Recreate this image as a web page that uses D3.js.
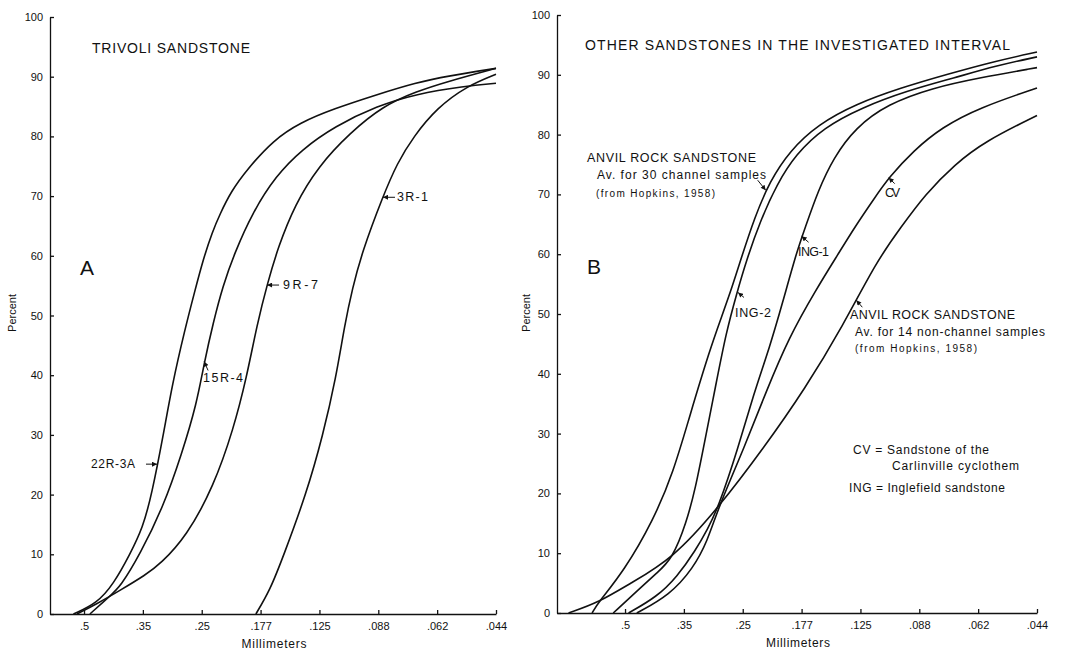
<!DOCTYPE html>
<html lang="en">

<head>
    <meta charset="UTF-8">
    <title>Cumulative grain size curves - sandstones</title>
    <script src="https://d3js.org/d3.v7.min.js"></script>
    <style>
        body {
            margin: 0;
            background: #fff;
        }

        svg text {
            font-family: "Liberation Sans", Arial, sans-serif;
            fill: #111;
        }

        .axis path,
        .axis line {
            stroke: #111;
            stroke-width: 1.3;
        }

        .axis text {
            font-size: 11px;
        }

        .curve {
            fill: none;
            stroke: #111;
            stroke-width: 1.6;
        }

        .arrow {
            stroke: #111;
            stroke-width: 1;
        }
    </style>
</head>

<body>
    <svg id="chart" width="1074" height="652"></svg>
    <script>
        // x axis: phi units (log2 of mm), labelled in millimeters
        let tickPhi = [1, 1.5, 2, 2.5, 3, 3.5, 4, 4.5]
        let tickMm = [".5", ".35", ".25", ".177", ".125", ".088", ".062", ".044"]
        let tickPct = [0, 10, 20, 30, 40, 50, 60, 70, 80, 90, 100]

        // panel A - Trivoli sandstone, [phi, cumulative percent]
        let s22R3A = [[0.91, 0], [1.11, 1.8], [1.25, 5.0], [1.39, 10.0], [1.50, 14.5], [1.575, 20.0], [1.674, 30.0],
        [1.75, 38.5], [1.855, 47.5], [1.94, 54.0], [2.014, 59.5], [2.09, 64.0], [2.155, 67.0], [2.25, 70.8],
        [2.382, 74.4], [2.61, 79.4], [2.835, 82.3], [3.118, 84.6], [3.49, 87.0], [3.82, 89.0], [4.09, 90.1], [4.5, 91.4]]
        let s15R4 = [[1.05, 0], [1.22, 3.0], [1.31, 4.6], [1.476, 10.0], [1.674, 18.0], [1.83, 26.8], [1.957, 35.2],
        [2.02, 42.0], [2.10, 49.0], [2.18, 55.0], [2.28, 60.5], [2.43, 67.2], [2.63, 73.4], [2.85, 77.8], [3.13, 81.7],
        [3.49, 85.1], [3.82, 87.1], [4.23, 88.4], [4.5, 88.9]]
        let s9R7 = [[0.94, 0], [1.11, 1.7], [1.31, 4.0], [1.52, 6.5], [1.65, 8.4], [1.87, 13.0], [2.10, 21.3],
        [2.27, 31.0], [2.38, 39.5], [2.47, 48.5], [2.56, 55.5], [2.65, 61.5], [2.79, 68.5], [2.99, 75.0], [3.26, 80.6],
        [3.54, 85.1], [3.82, 87.5], [4.09, 89.2], [4.5, 91.4]]
        let s3R1 = [[2.46, 0], [2.58, 4.0], [2.69, 9.5], [2.89, 20.2], [3.03, 30.0], [3.14, 39.5], [3.215, 48.5],
        [3.28, 54.5], [3.36, 60.5], [3.54, 70.0], [3.66, 75.5], [3.80, 80.0], [4.0, 84.8], [4.25, 88.4], [4.5, 90.4]]

        // panel B - other sandstones
        let sAnvilChannel = [[0.72, 0], [0.77, 1.7], [0.99, 7.0], [1.24, 15.5], [1.41, 23.5], [1.55, 33.0], [1.72, 44.0],
        [1.82, 49.5], [1.91, 54.5], [1.99, 59.5], [2.10, 66.1], [2.23, 72.2], [2.40, 77.3], [2.64, 81.7], [2.96, 85.1],
        [3.34, 87.8], [3.74, 90.1], [4.15, 92.3], [4.5, 93.8]]
        let sING2 = [[0.90, 0], [1.13, 4.2], [1.27, 6.7], [1.40, 9.0], [1.52, 15.0], [1.60, 21.0], [1.67, 28.0],
        [1.77, 38.0], [1.86, 47.0], [1.95, 53.5], [2.03, 58.9], [2.15, 65.6], [2.29, 71.7], [2.45, 76.7], [2.69, 81.2],
        [3.01, 84.5], [3.39, 87.3], [3.80, 89.5], [4.15, 91.5], [4.5, 93.0]]
        let sING1 = [[1.03, 0], [1.27, 2.7], [1.44, 6.0], [1.60, 10.5], [1.70, 14.0], [1.79, 17.5], [1.96, 27.5],
        [2.09, 36.5], [2.23, 44.5], [2.34, 52.0], [2.46, 60.5], [2.53, 64.4], [2.64, 70.6], [2.77, 76.1], [2.96, 81.2],
        [3.23, 85.1], [3.61, 87.8], [4.01, 89.5], [4.5, 91.2]]
        let sCV = [[1.10, 0], [1.38, 3.0], [1.58, 7.5], [1.70, 12.0], [1.79, 17.5], [2.02, 28.0], [2.20, 37.1],
        [2.39, 46.0], [2.62, 54.0], [2.81, 60.0], [2.96, 64.8], [3.12, 69.4], [3.24, 72.8], [3.45, 77.3], [3.69, 81.2],
        [4.01, 84.5], [4.5, 87.8]]
        let sAnvilNonChannel = [[0.52, 0], [0.77, 1.7], [1.04, 4.9], [1.40, 9.0], [1.79, 17.5], [2.175, 27.5],
        [2.53, 37.5], [2.85, 48.0], [3.14, 58.9], [3.34, 64.4], [3.55, 70.0], [3.80, 75.0], [4.06, 78.9], [4.5, 83.2]]

        const svg = d3.select("#chart")

        svg.append("defs").append("marker")
            .attr("id", "head")
            .attr("viewBox", "0 0 6 6")
            .attr("refX", 6).attr("refY", 3)
            .attr("markerWidth", 6).attr("markerHeight", 5)
            .attr("markerUnits", "userSpaceOnUse")
            .attr("orient", "auto")
            .append("path").attr("d", "M0,0L6,3L0,6Z").attr("fill", "#111")

        function addText(g, t) {
            g.append("text")
                .attr("x", t.x).attr("y", t.y)
                .attr("dy", "0.35em")
                .attr("text-anchor", t.anchor || "start")
                .attr("textLength", t.len || null)
                .attr("lengthAdjust", "spacing")
                .style("font-size", t.size + "px")
                .text(t.text)
        }

        function drawPanel(p) {
            let g = svg.append("g")
            let x = d3.scaleLinear().domain(p.phiDomain).range(p.xRange)
            let y = d3.scaleLinear().domain([0, 100]).range(p.yRange)

            g.append("g").attr("class", "axis")
                .attr("transform", `translate(0,${p.yRange[0]})`)
                .call(d3.axisBottom(x).tickValues(tickPhi).tickFormat((d, i) => tickMm[i])
                    .tickSizeInner(-4).tickSizeOuter(0).tickPadding(8))
            g.append("g").attr("class", "axis")
                .attr("transform", `translate(${p.xRange[0]},0)`)
                .call(d3.axisLeft(y).tickValues(tickPct)
                    .tickSizeInner(-4).tickSizeOuter(0).tickPadding(7))
            g.selectAll(".axis text").attr("font-family", null).attr("font-size", null)

            let line = d3.line()
                .x(d => x(d[0]))
                .y(d => y(d[1]))
                .curve(d3.curveBasis)
            g.selectAll("path.curve")
                .data(p.series)
                .join("path")
                .attr("class", "curve")
                .attr("d", line)

            // arrows point at a spot on a curve, tail offset in pixels
            p.arrows.forEach(a => {
                let tx = x(a.at[0]), ty = y(a.at[1])
                g.append("line").attr("class", "arrow")
                    .attr("x1", tx + a.off[0]).attr("y1", ty + a.off[1])
                    .attr("x2", tx).attr("y2", ty)
                    .attr("marker-end", "url(#head)")
            })

            p.texts.forEach(t => addText(g, t))

            g.append("text")
                .attr("transform", `translate(${p.percentX},313) rotate(-90)`)
                .attr("text-anchor", "middle")
                .attr("dy", "0.35em")
                .style("font-size", "11px")
                .text("Percent")
        }

        drawPanel({
            phiDomain: [0.711, 4.5], xRange: [50, 496], yRange: [614, 17], percentX: 12,
            series: [s22R3A, s15R4, s9R7, s3R1],
            arrows: [
                { at: [3.54, 69.8], off: [12, 0] },
                { at: [2.555, 55.1], off: [12, 0] },
                { at: [2.02, 42.3], off: [4, 9] },
                { at: [1.62, 25.1], off: [-11, 0] }
            ],
            texts: [
                { text: "TRIVOLI SANDSTONE", x: 92, y: 48, size: 14, len: 158 },
                { text: "A", x: 80, y: 268, size: 21 },
                { text: "3R-1", x: 397, y: 197, size: 12.5, len: 31 },
                { text: "9R-7", x: 283, y: 285, size: 12.5, len: 35 },
                { text: "15R-4", x: 203, y: 378, size: 12.5, len: 40 },
                { text: "22R-3A", x: 135, y: 464, size: 12, len: 44, anchor: "end" },
                { text: "Millimeters", x: 274, y: 644, size: 12, len: 65, anchor: "middle" }
            ]
        })

        drawPanel({
            phiDomain: [0.422, 4.5], xRange: [557, 1037], yRange: [613, 15], percentX: 526,
            series: [sAnvilChannel, sING2, sING1, sCV, sAnvilNonChannel],
            arrows: [
                { at: [2.195, 70.7], off: [-8, -10] },
                { at: [1.96, 53.6], off: [6, 5] },
                { at: [2.50, 63.0], off: [7, 6] },
                { at: [3.24, 72.8], off: [6, 6] },
                { at: [2.965, 52.3], off: [6, 7] }
            ],
            texts: [
                { text: "OTHER SANDSTONES IN THE INVESTIGATED INTERVAL", x: 585, y: 45, size: 14, len: 425 },
                { text: "B", x: 587, y: 267, size: 21 },
                { text: "ANVIL ROCK SANDSTONE", x: 587, y: 158, size: 12.5, len: 169 },
                { text: "Av. for 30 channel samples", x: 597, y: 175, size: 12, len: 169 },
                { text: "(from Hopkins, 1958)", x: 596, y: 193, size: 10, len: 119 },
                { text: "ING-2", x: 735, y: 313, size: 12.5, len: 36 },
                { text: "ING-1", x: 798, y: 252, size: 12.5, len: 31 },
                { text: "CV", x: 885, y: 193, size: 12.5, len: 15 },
                { text: "ANVIL ROCK SANDSTONE", x: 850, y: 315, size: 12.5, len: 165 },
                { text: "Av. for 14 non-channel samples", x: 855, y: 332, size: 12, len: 190 },
                { text: "(from Hopkins, 1958)", x: 855, y: 348, size: 10, len: 122 },
                { text: "CV = Sandstone of the", x: 853, y: 450, size: 12, len: 136 },
                { text: "Carlinville cyclothem", x: 892, y: 466, size: 12, len: 127 },
                { text: "ING = Inglefield sandstone", x: 849, y: 488, size: 12, len: 156 },
                { text: "Millimeters", x: 798, y: 643, size: 12, len: 64, anchor: "middle" }
            ]
        })
    </script>
</body>

</html>
